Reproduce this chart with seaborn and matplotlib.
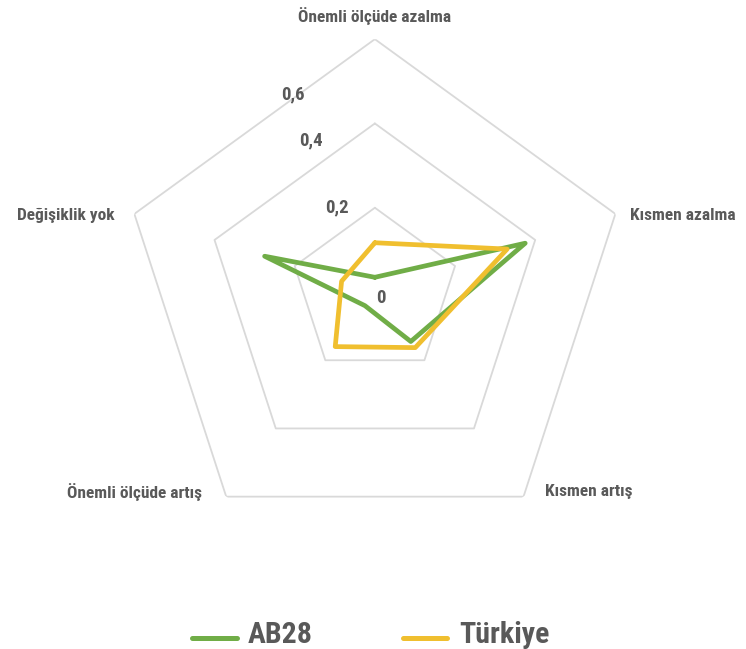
import numpy as np
import pandas as pd
import seaborn as sns
import matplotlib.pyplot as plt

# Veriler
kategoriler = ['Önemli ölçüde azalma', 'Kısmen azalma', 'Kısmen artış',
               'Önemli ölçüde artış', 'Değişiklik yok']
ab28 = [0.035, 0.375, 0.145, 0.04, 0.275]
turkiye = [0.117, 0.33, 0.163, 0.16, 0.083]
seriler = ['AB28', 'Türkiye']
halkalar = [0, 0.2, 0.4, 0.6]
halka_etiketleri = ['0', '0,2', '0,4', '0,6']

sns.set_theme(style='white')
plt.rcParams['font.family'] = ['Roboto Condensed', 'DejaVu Sans']
yazi_rengi = '#595959'
renkler = {'AB28': '#70AD47', 'Türkiye': '#F0BF2F'}

n = len(kategoriler)
acilar = np.linspace(0, 2 * np.pi, n, endpoint=False)
kapali = np.append(acilar, 2 * np.pi)

# kapalı çokgen için ilk noktayı sona ekle
parcalar = []
for ad, degerler in zip(seriler, [ab28, turkiye]):
    parcalar.append(pd.DataFrame({'aci': kapali,
                                  'deger': list(degerler) + [degerler[0]],
                                  'seri': ad}))
df = pd.concat(parcalar, ignore_index=True)

fig = plt.figure(figsize=(7.46, 6.49), dpi=100)
ax = fig.add_axes([0.1635, 0.160, 0.678, 0.78], projection='polar')
ax.set_theta_zero_location('N')
ax.set_theta_direction(-1)
ax.set_ylim(0, 0.6)
ax.grid(False)
ax.spines['polar'].set_visible(False)
ax.set_xticks([])
ax.set_yticks([])

# çokgen ızgara
for r in halkalar[1:]:
    ax.plot(kapali, [r] * (n + 1), color='#D9D9D9', lw=1.3, zorder=1)

sns.lineplot(data=df, x='aci', y='deger', hue='seri', palette=renkler,
             sort=False, estimator=None, units='seri', lw=3.4, ax=ax,
             legend=False, zorder=3)
ax.set_xlabel('')
ax.set_ylabel('')

# eksen değer etiketleri (referanstaki yerleri)
for (aci_derece, r), metin in zip([(135, 0.02), (-24, 0.22), (-23, 0.39), (-22.6, 0.507)],
                                  halka_etiketleri):
    ax.text(np.deg2rad(aci_derece), r, metin, ha='center', va='center',
            fontsize=13.5, fontweight='bold', color=yazi_rengi)

# kategori etiketleri
ofsetler = [((0, 23), 'center'), ((15, -2), 'left'), ((21, 5), 'left'),
            ((-24, 5), 'right'), ((-20, -2), 'right')]
for aci, kat, ((dx, dy), ha) in zip(acilar, kategoriler, ofsetler):
    ax.annotate(kat, xy=(aci, 0.6), xytext=(dx, dy), textcoords='offset pixels',
                ha=ha, va='center', fontsize=12.5, fontweight='bold',
                color=yazi_rengi, annotation_clip=False)

tutamaclar = [plt.Line2D([0], [0], color=renkler[s], lw=3.6) for s in seriler]
leg = fig.legend(tutamaclar, seriler, loc='center', bbox_to_anchor=(0.497, 0.021),
                 ncol=2, frameon=False, handlelength=2.9, columnspacing=5.9,
                 handletextpad=0.75)
for t in leg.get_texts():
    t.set_fontsize(21.5)
    t.set_fontweight('bold')
    t.set_color(yazi_rengi)

fig.savefig('out.png', dpi=100)
